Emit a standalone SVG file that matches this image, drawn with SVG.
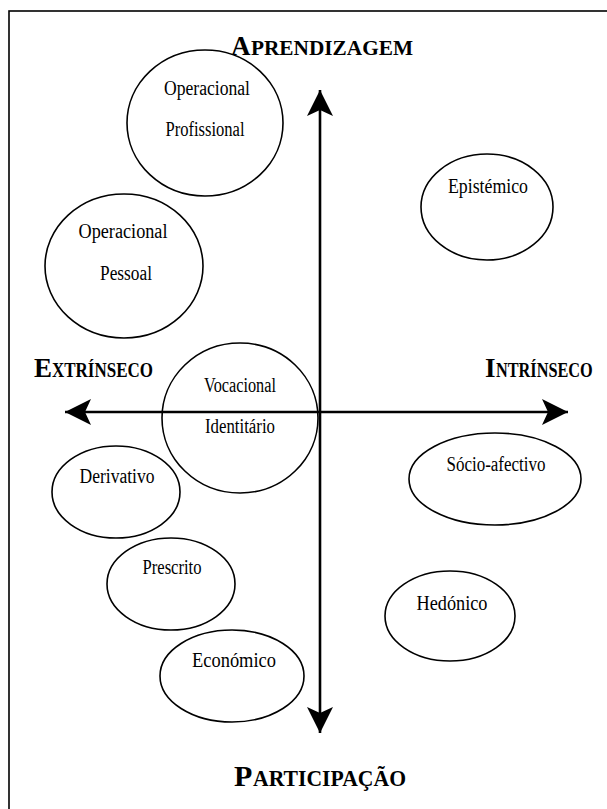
<svg xmlns="http://www.w3.org/2000/svg" width="607" height="809" viewBox="0 0 607 809">
<defs>
<style>
.n ellipse{fill:#fff;stroke:#000;stroke-width:1.6}
.t{font-family:'Liberation Serif','Times New Roman',Tinos,'DejaVu Serif',serif;font-size:20px;fill:#000;text-anchor:middle}
.h{font-family:'Liberation Serif','Times New Roman',Tinos,'DejaVu Serif',serif;font-weight:bold;fill:#000}
.ax{stroke:#000;stroke-width:2.6;fill:none}
</style>
<marker id="ah" viewBox="-27 -14 28 28" refX="0" refY="0" markerWidth="28" markerHeight="28" markerUnits="userSpaceOnUse" orient="auto-start-reverse">
<path d="M0,0 L-26,-13 L-20,0 L-26,13 Z" fill="#000"/>
</marker>
</defs>
<rect x="0" y="0" width="607" height="809" fill="#fff"/>
<rect x="9" y="11" width="620" height="820" fill="none" stroke="#000" stroke-width="1.6"/>

<g id="connectors">
<line class="ax" x1="320" y1="733" x2="320" y2="90" marker-end="url(#ah)" marker-start="url(#ah)"/>
<line class="ax" x1="65" y1="412" x2="568" y2="412" marker-end="url(#ah)" marker-start="url(#ah)"/>
</g>

<g id="titles">
<text class="h" x="231" y="55" font-size="27">A</text>
<text class="h" x="251" y="55" font-size="21" textLength="162" lengthAdjust="spacingAndGlyphs">PRENDIZAGEM</text>
<text class="h" x="34" y="377" font-size="27">E</text>
<text class="h" x="52" y="377" font-size="21" textLength="101" lengthAdjust="spacingAndGlyphs">XTRÍNSECO</text>
<text class="h" x="485" y="377" font-size="27">I</text>
<text class="h" font-size="21" transform="translate(496,377) scale(0.775,1)">NTRÍNSECO</text>
<text class="h" x="234" y="786" font-size="30">P</text>
<text class="h" x="253" y="786" font-size="23" textLength="153" lengthAdjust="spacingAndGlyphs">ARTICIPAÇÃO</text>
</g>

<g id="op-profissional" class="n">
<ellipse cx="205" cy="123" rx="78" ry="73"/>
<text class="t" x="207" y="95" textLength="86" lengthAdjust="spacingAndGlyphs">Operacional</text>
<text class="t" x="205" y="136" textLength="79" lengthAdjust="spacingAndGlyphs">Profissional</text>
</g>

<g id="op-pessoal" class="n">
<ellipse cx="124" cy="266" rx="79" ry="72"/>
<text class="t" x="123" y="238" textLength="89" lengthAdjust="spacingAndGlyphs">Operacional</text>
<text class="t" x="126" y="280" textLength="52" lengthAdjust="spacingAndGlyphs">Pessoal</text>
</g>

<g id="vocacional" class="n">
<ellipse cx="240" cy="418" rx="78" ry="75" style="fill:none"/>
<text class="t" x="240" y="392" textLength="72" lengthAdjust="spacingAndGlyphs">Vocacional</text>
<text class="t" x="240" y="433" textLength="70" lengthAdjust="spacingAndGlyphs">Identitário</text>
</g>

<g id="epistemico" class="n">
<ellipse cx="487" cy="207" rx="66" ry="53"/>
<text class="t" x="488" y="193" textLength="80" lengthAdjust="spacingAndGlyphs">Epistémico</text>
</g>

<g id="socio-afectivo" class="n">
<ellipse cx="495" cy="479" rx="86" ry="46"/>
<text class="t" x="496" y="471" textLength="99" lengthAdjust="spacingAndGlyphs">Sócio-afectivo</text>
</g>

<g id="hedonico" class="n">
<ellipse cx="450" cy="616" rx="65" ry="45"/>
<text class="t" x="452" y="610" textLength="71" lengthAdjust="spacingAndGlyphs">Hedónico</text>
</g>

<g id="derivativo" class="n">
<ellipse cx="116" cy="492" rx="64" ry="46"/>
<text class="t" x="117" y="483" textLength="75" lengthAdjust="spacingAndGlyphs">Derivativo</text>
</g>

<g id="prescrito" class="n">
<ellipse cx="171" cy="584" rx="64" ry="46"/>
<text class="t" x="172" y="574" textLength="59" lengthAdjust="spacingAndGlyphs">Prescrito</text>
</g>

<g id="economico" class="n">
<ellipse cx="232" cy="676" rx="72" ry="46"/>
<text class="t" x="234" y="667" textLength="84" lengthAdjust="spacingAndGlyphs">Económico</text>
</g>
</svg>
